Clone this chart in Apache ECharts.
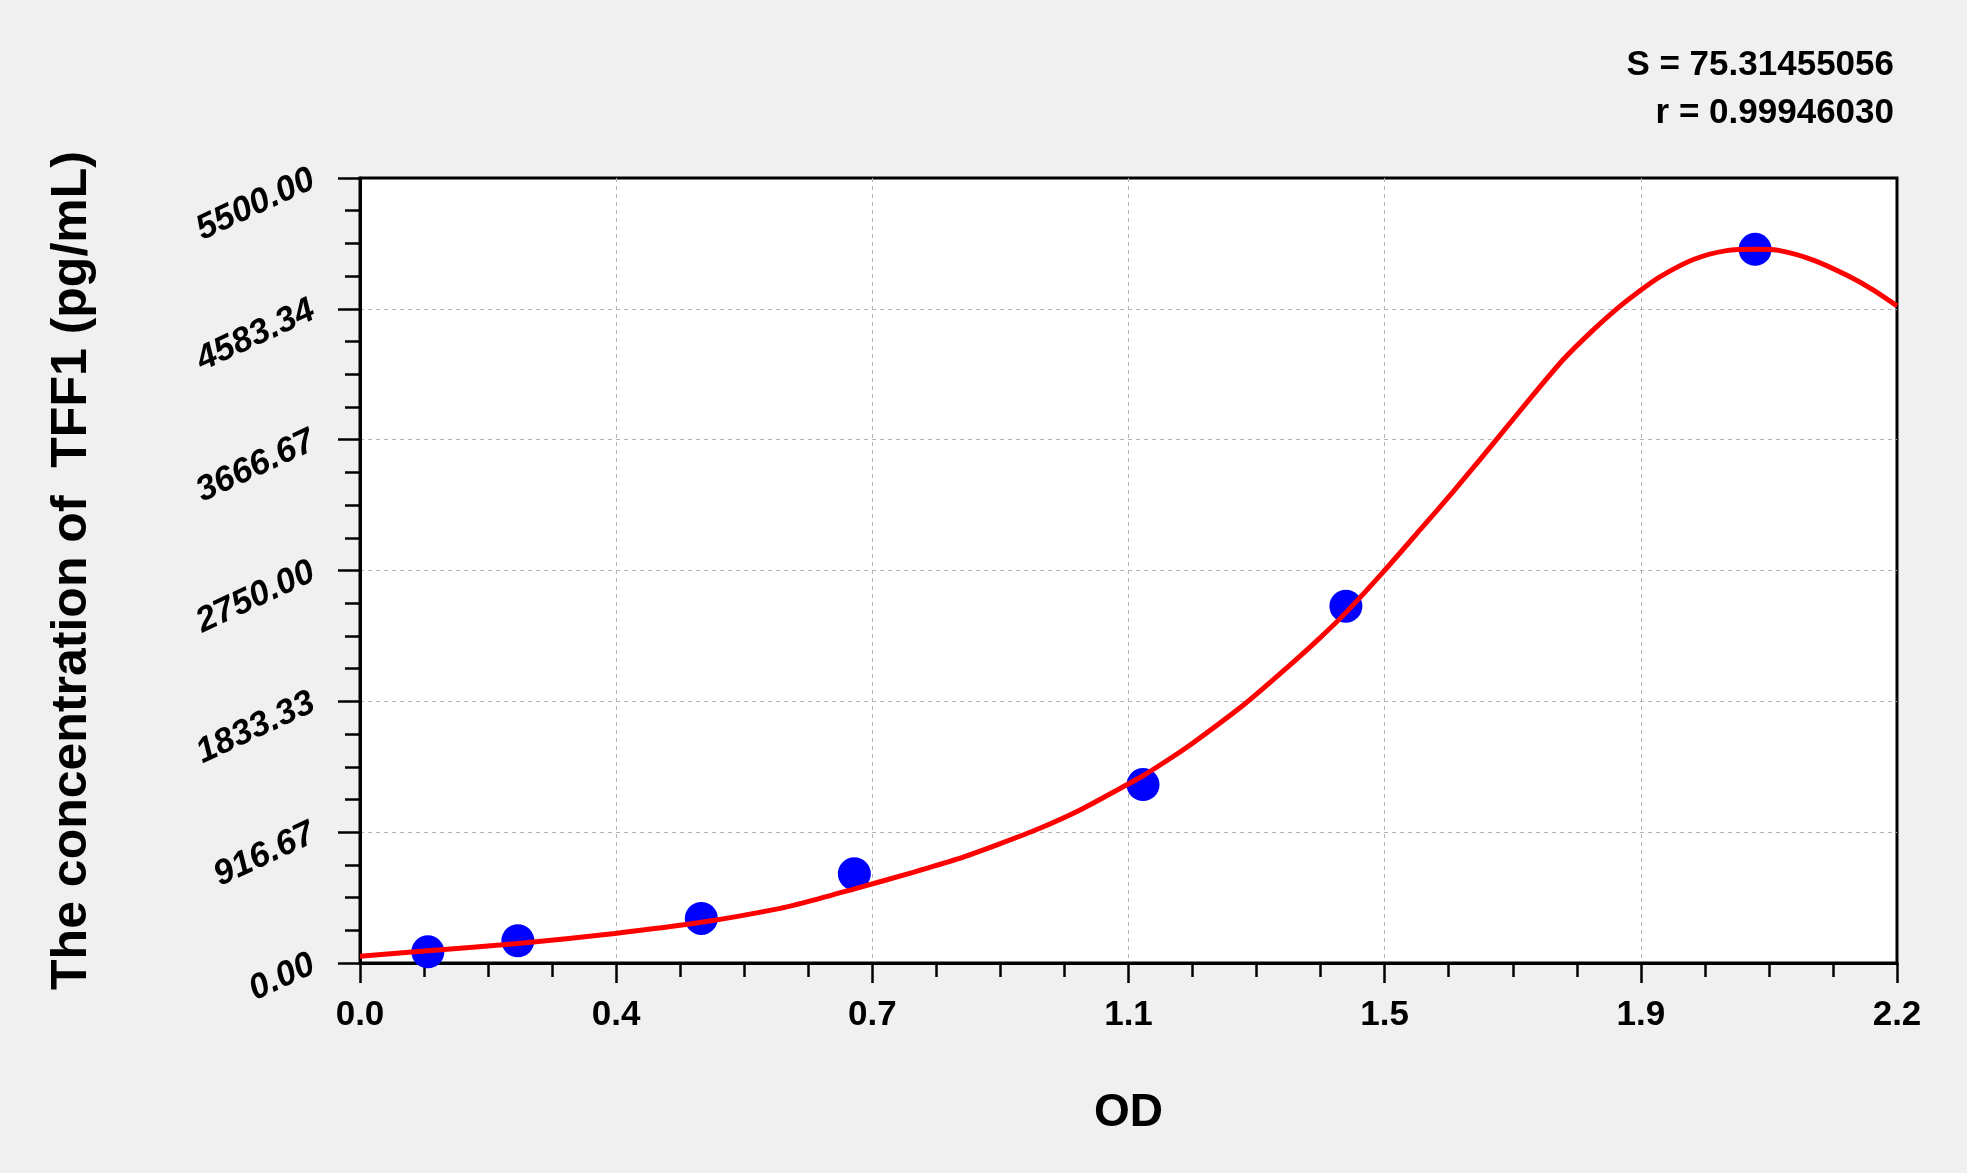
<!DOCTYPE html>
<html>
<head>
<meta charset="utf-8">
<script src="https://cdn.jsdelivr.net/npm/echarts@6/dist/echarts.min.js"></script>
<style>
html,body{margin:0;padding:0;background:#f0f0f0;}
#chart{width:1967px;height:1173px;}
</style>
</head>
<body>
<div id="chart"></div>
<script>
// Standard points
var odValues = [0.098, 0.228, 0.493, 0.714, 1.131, 1.424, 2.015];
var concValues = [78, 156, 312.5, 625, 1250, 2500, 5000];
// Fitted curve
var curveOD = [0.000, 0.098, 0.228, 0.368, 0.493, 0.607, 0.655, 0.713, 0.799, 0.862, 0.924, 0.982, 1.040, 1.107, 1.131, 1.174, 1.204, 1.276, 1.339, 1.387, 1.425, 1.478, 1.531, 1.579, 1.618, 1.647, 1.690, 1.738, 1.781, 1.820, 1.844, 1.878, 1.926, 1.974, 2.017, 2.051, 2.099, 2.147, 2.186, 2.220];
var curveConc = [48, 86, 137, 207, 285, 383, 440, 518, 635, 727, 835, 944, 1072, 1247, 1312, 1445, 1545, 1808, 2070, 2280, 2460, 2740, 3034, 3303, 3529, 3700, 3954, 4228, 4434, 4602, 4693, 4809, 4929, 4991, 5000, 4991, 4925, 4820, 4715, 4604];
// Tick labels
var xTickLabels = ['0.0', '0.4', '0.7', '1.1', '1.5', '1.9', '2.2'];
var yTickLabels = ['0.00', '916.67', '1833.33', '2750.00', '3666.67', '4583.34', '5500.00'];
var statS = 'S = 75.31455056';
var statR = 'r = 0.99946030';

var X_MAX = 2.22, X_INT = 0.37;
var Y_MAX = 5500, Y_INT = 5500 / 6;
var FONT = "'Liberation Sans', Arial, sans-serif";

var chart = echarts.init(document.getElementById('chart'));

var scatterData = odValues.map(function (v, i) { return [v, concValues[i]]; });
var curveData = curveOD.map(function (v, i) { return [v, curveConc[i]]; });

chart.setOption({
  backgroundColor: '#f0f0f0',
  animation: false,
  grid: {
    left: 360, right: 70, top: 178, bottom: 210,
    show: true, backgroundColor: '#ffffff', borderColor: '#000000', borderWidth: 3
  },
  graphic: [
    { type: 'text', right: 73, top: 48, style: { text: statS, font: "bold 35px " + FONT, fill: '#000' } },
    { type: 'text', right: 73, top: 96, style: { text: statR, font: "bold 35px " + FONT, fill: '#000' } }
  ],
  xAxis: {
    type: 'value', min: 0, max: X_MAX, interval: X_INT,
    name: 'OD', nameLocation: 'middle', nameGap: 127,
    nameTextStyle: { fontSize: 46, fontWeight: 'bold', color: '#000', fontFamily: FONT },
    axisLine: { show: true, lineStyle: { color: '#000', width: 3 } },
    axisTick: { show: true, inside: false, length: 20, lineStyle: { color: '#000', width: 2.5 } },
    minorTick: { show: true, splitNumber: 4, length: 14, lineStyle: { color: '#000', width: 2.5 } },
    splitLine: { show: true, showMinLine: false, showMaxLine: false, lineStyle: { color: '#b4b4b4', width: 1, type: [4, 4] } },
    axisLabel: {
      fontSize: 35, fontWeight: 'bold', color: '#000', fontFamily: FONT, margin: 35,
      formatter: function (v) { return xTickLabels[Math.round(v / X_INT)]; }
    }
  },
  yAxis: {
    type: 'value', min: 0, max: Y_MAX, interval: Y_INT,
    name: 'The concentration of  TFF1 (pg/mL)', nameLocation: 'middle', nameGap: 263, nameRotate: 90,
    nameTextStyle: { fontSize: 50, fontWeight: 'bold', color: '#000', fontFamily: FONT },
    axisLine: { show: true, lineStyle: { color: '#000', width: 3 } },
    axisTick: { show: true, inside: false, length: 22, lineStyle: { color: '#000', width: 2.5 } },
    minorTick: { show: true, splitNumber: 4, length: 15, lineStyle: { color: '#000', width: 2.5 } },
    splitLine: { show: true, showMinLine: false, showMaxLine: false, lineStyle: { color: '#b4b4b4', width: 1, type: [4, 4] } },
    axisLabel: {
      fontSize: 35, fontWeight: 'bold', fontStyle: 'italic', color: '#000', fontFamily: FONT,
      rotate: 25, margin: 47,
      formatter: function (v) { return yTickLabels[Math.round(v / Y_INT)]; }
    }
  },
  series: [
    {
      type: 'scatter', data: scatterData, symbol: 'circle', symbolSize: 33,
      itemStyle: { color: '#0000ff', opacity: 1 }, z: 2
    },
    {
      type: 'line', data: curveData, showSymbol: false, smooth: 0.25,
      lineStyle: { color: '#ff0000', width: 5 }, z: 3
    }
  ]
});
</script>
</body>
</html>
